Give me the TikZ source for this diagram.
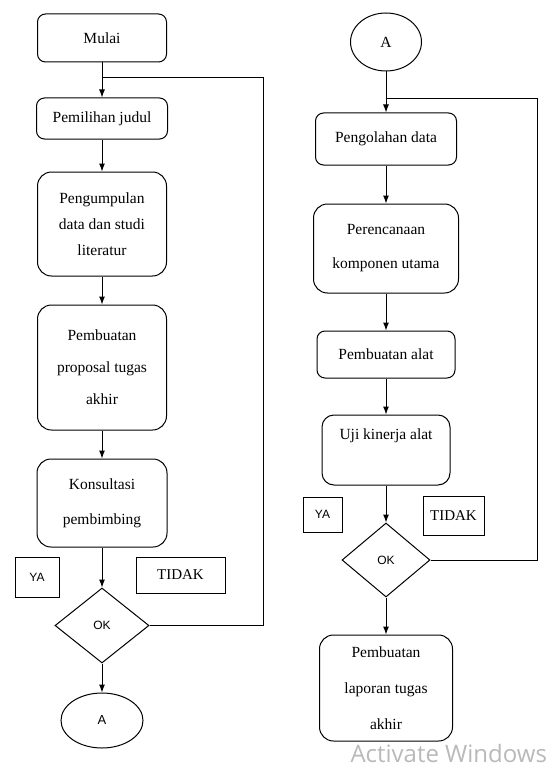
\documentclass[tikz,border=0pt]{standalone}
\usepackage{fontspec}
\setmainfont{Liberation Serif}
\newfontfamily\serifteks{Liberation Serif}
\newfontfamily\sansteks{Liberation Sans}
\newfontfamily\wmteks{Open Sans}
\usepackage{tikz}
\usetikzlibrary{positioning,arrows.meta,shapes.geometric}

\begin{document}
\begin{tikzpicture}[
    x=1pt, y=-1pt,
    line width=1pt,
    proses/.style={
        draw,
        rectangle,
        rounded corners=8pt,
        align=center,
        inner sep=2pt,
        font=\serifteks\fontsize{15.5}{32}\selectfont
    },
    keputusan/.style={
        draw,
        diamond,
        inner sep=0pt,
        font=\sansteks\fontsize{12}{14}\selectfont
    },
    penghubung/.style={
        draw,
        ellipse,
        inner sep=0pt,
        font=\serifteks\fontsize{15.5}{18}\selectfont
    },
    keterangan/.style={
        draw,
        rectangle,
        inner sep=0pt,
        font=\serifteks\fontsize{15}{18}\selectfont
    },
    >={Latex[length=8pt,width=6pt]}
]
\useasboundingbox (0,0) rectangle (553,773);

% Kolom kiri
\node[proses,minimum width=129pt,minimum height=48pt] (mulai) at (102,38) {Mulai};
\node[proses,minimum width=131pt,minimum height=41pt,below=35pt of mulai] (judul) {Pemilihan judul};
\node[proses,rounded corners=14pt,minimum width=129pt,minimum height=104pt,below=32pt of judul,
    font=\serifteks\fontsize{15.5}{26}\selectfont] (kumpul) {Pengumpulan\\data dan studi\\literatur};
\node[proses,rounded corners=14pt,minimum width=129pt,minimum height=125pt,below=28pt of kumpul] (proposal) {Pembuatan\\proposal tugas\\akhir};
\node[proses,rounded corners=14pt,minimum width=130pt,minimum height=88pt,below=28pt of proposal,
    font=\serifteks\fontsize{15.5}{35}\selectfont] (konsul) {Konsultasi\\pembimbing};
\node[keputusan,minimum width=94pt,minimum height=75pt,below=40pt of konsul] (ok1) {OK};
\node[penghubung,minimum width=82pt,minimum height=55pt,below=29pt of ok1,
    font=\sansteks\fontsize{13}{15}\selectfont] (a1) {A};

\node[keterangan,minimum width=44pt,minimum height=40pt,font=\sansteks\fontsize{12}{14}\selectfont] (ya1) at (37,577) {YA};
\node[keterangan,minimum width=89pt,minimum height=36pt] (tidak1) at (180.5,575) {TIDAK};

% Kolom kanan
\node[penghubung,minimum width=71pt,minimum height=58pt] (a2) at (386,42) {A};
\node[proses,minimum width=141pt,minimum height=52pt,below=41pt of a2] (olah) {Pengolahan data};
\node[proses,rounded corners=14pt,minimum width=145pt,minimum height=89pt,below=38pt of olah,
    font=\serifteks\fontsize{15.5}{34}\selectfont] (rencana) {Perencanaan\\komponen utama};
\node[proses,minimum width=138pt,minimum height=47pt,below=37pt of rencana] (alat) {Pembuatan alat};
\node[proses,rounded corners=12pt,minimum width=128pt,minimum height=70pt,below=36pt of alat] (uji) {Uji kinerja alat\\\mbox{}};
\node[keputusan,minimum width=88pt,minimum height=74pt,below=37pt of uji] (ok2) {OK};
\node[proses,rounded corners=14pt,minimum width=133pt,minimum height=106pt,below=37pt of ok2,
    font=\serifteks\fontsize{15.5}{36}\selectfont] (laporan) {Pembuatan\\laporan tugas\\akhir};

\node[keterangan,minimum width=39pt,minimum height=35pt,font=\sansteks\fontsize{12}{14}\selectfont] (ya2) at (322.5,514.5) {YA};
\node[keterangan,minimum width=61pt,minimum height=39pt] (tidak2) at (453.5,515.5) {TIDAK};

% Alur kiri
\path[->] (mulai) edge (judul);
\path[->] (judul) edge (kumpul);
\path[->] (kumpul) edge (proposal);
\path[->] (proposal) edge (konsul);
\path[->] (konsul) edge (ok1);
\path[->] (ok1) edge (a1);

% Alur kanan
\path[->] (a2) edge (olah);
\path[->] (olah) edge (rencana);
\path[->] (rencana) edge (alat);
\path[->] (alat) edge (uji);
\path[->] (uji) edge (ok2);
\path[->] (ok2) edge (laporan);

% Kembali jika TIDAK
\coordinate[below=15pt of mulai] (gabung1);
\coordinate[right=161pt of gabung1] (belok1);
\draw (ok1.east) -| (belok1) -- (gabung1);

\coordinate[below=27pt of a2] (gabung2);
\coordinate[right=151pt of gabung2] (belok2);
\draw (ok2.east) -| (belok2) -- (gabung2);

% Watermark
\node[anchor=base west,inner sep=0pt,text=gray!55,font=\wmteks\fontsize{24}{28}\selectfont] (aktivasi) at (350,762) {Activate Windows};

\end{tikzpicture}
\end{document}
